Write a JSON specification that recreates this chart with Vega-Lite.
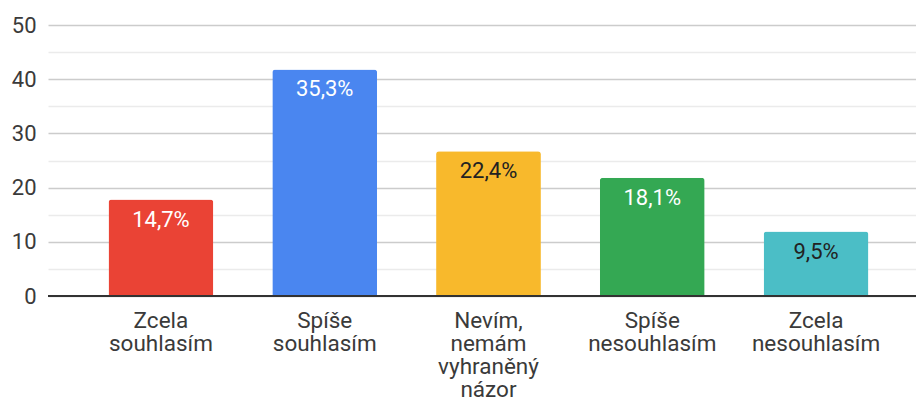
{
  "$schema": "https://vega.github.io/schema/vega-lite/v6.json",
  "autosize": "none",
  "width": 868,
  "height": 271,
  "padding": {"left": 48, "top": 25, "right": 0, "bottom": 105},
  "background": "white",
  "config": {"view": {"stroke": null}, "font": "Roboto"},
  "data": {
    "values": [
      {"cat": "Zcela souhlasím", "value": 17.8, "pct": "14,7%"},
      {"cat": "Spíše souhlasím", "value": 41.8, "pct": "35,3%"},
      {"cat": "Nevím, nemám vyhraněný názor", "value": 26.7, "pct": "22,4%"},
      {"cat": "Spíše nesouhlasím", "value": 21.8, "pct": "18,1%"},
      {"cat": "Zcela nesouhlasím", "value": 11.9, "pct": "9,5%"}
    ]
  },
  "encoding": {
    "x": {
      "field": "cat", "type": "nominal", "sort": null, "title": null,
      "scale": {"paddingInner": 0.36, "paddingOuter": 0.33, "align": 0.56},
      "axis": {
        "labelAngle": 0, "domain": false, "ticks": false, "grid": false,
        "labelExpr": "split(datum.label, ' ')",
        "labelBaseline": "alphabetic", "labelPadding": 31, "labelLineHeight": 23,
        "labelFontSize": 22.5, "labelColor": "#3a3a3a", "labelFont": "Roboto", "labelLimit": 300
      }
    },
    "y": {
      "field": "value", "type": "quantitative", "title": null,
      "scale": {"domain": [0, 50], "nice": false},
      "axis": {
        "values": [0, 5, 10, 15, 20, 25, 30, 35, 40, 45, 50],
        "labelExpr": "datum.value % 10 === 0 ? datum.label : ''",
        "domain": false, "ticks": false, "grid": true,
        "gridColor": {"condition": {"test": "datum.value % 10 === 0", "value": "#cccccc"}, "value": "#ebebeb"},
        "gridWidth": 1.5,
        "labelPadding": 12, "labelFontSize": 22, "labelColor": "#3a3a3a", "labelFont": "Roboto"
      }
    }
  },
  "layer": [
    {
      "mark": {"type": "bar", "cornerRadiusTopLeft": 3, "cornerRadiusTopRight": 3},
      "encoding": {
        "color": {
          "field": "cat", "type": "nominal", "legend": null,
          "scale": {
            "domain": ["Zcela souhlasím", "Spíše souhlasím", "Nevím, nemám vyhraněný názor", "Spíše nesouhlasím", "Zcela nesouhlasím"],
            "range": ["#EA4335", "#4A86F0", "#F8B92C", "#34A853", "#4BBEC6"]
          }
        }
      }
    },
    {
      "mark": {"type": "text", "baseline": "alphabetic", "dy": 27, "fontSize": 22, "font": "Roboto"},
      "encoding": {
        "text": {"field": "pct"},
        "color": {
          "condition": {"test": "datum.cat === 'Nevím, nemám vyhraněný názor' || datum.cat === 'Zcela nesouhlasím'", "value": "#222222"},
          "value": "#ffffff"
        }
      }
    },
    {
      "mark": {"type": "rule", "stroke": "#333333", "strokeWidth": 1.5},
      "encoding": {"y": {"datum": 0}, "x": {"value": 0}, "x2": {"value": 868}}
    }
  ]
}
